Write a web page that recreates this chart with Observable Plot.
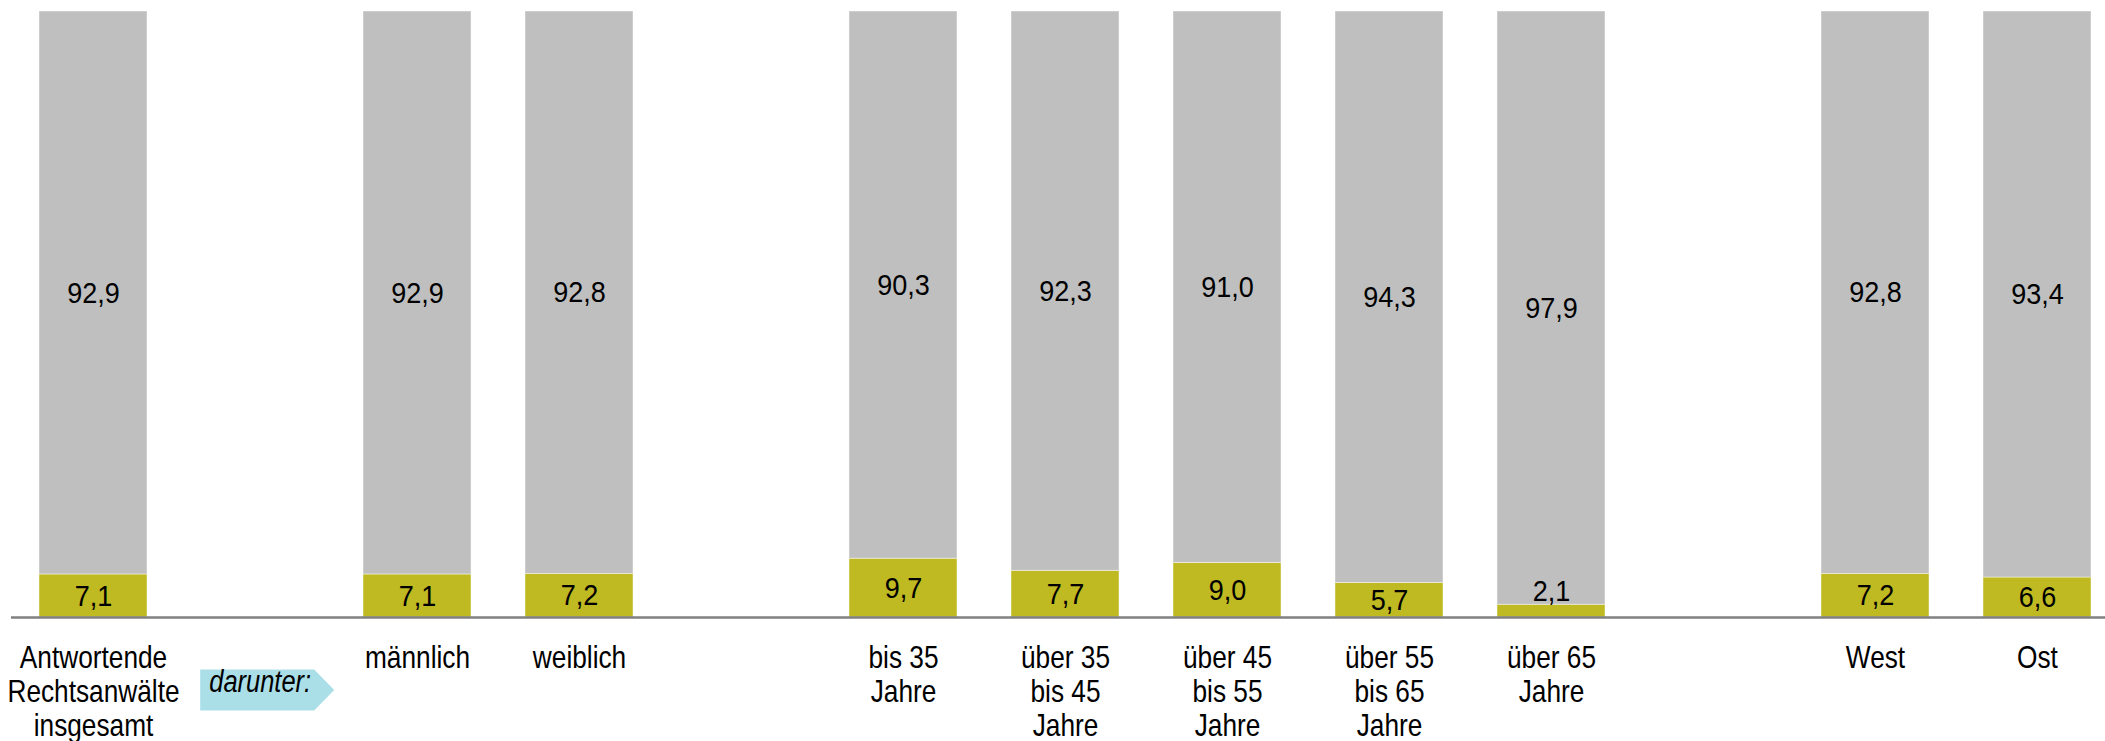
<!DOCTYPE html>
<html>
<head>
<meta charset="utf-8">
<script src="https://cdn.jsdelivr.net/npm/d3@7"></script>
<script src="https://cdn.jsdelivr.net/npm/@observablehq/plot@0.6"></script>
<style>
  html, body { margin: 0; padding: 0; background: #ffffff; }
  #chart svg { display: block; }
</style>
</head>
<body>
<div id="chart"></div>
<script>
// ---- Data ----
const categories = [
  "Antwortende\nRechtsanwälte\ninsgesamt",
  "männlich",
  "weiblich",
  "bis 35\nJahre",
  "über 35\nbis 45\nJahre",
  "über 45\nbis 55\nJahre",
  "über 55\nbis 65\nJahre",
  "über 65\nJahre",
  "West",
  "Ost"
];
const yellowValues = [7.1, 7.1, 7.2, 9.7, 7.7, 9.0, 5.7, 2.1, 7.2, 6.6];
const grayValues   = [92.9, 92.9, 92.8, 90.3, 92.3, 91.0, 94.3, 97.9, 92.8, 93.4];
const seriesNames = ["ja", "nein"];
const seriesColors = ["#bfb922", "#bfbfbf"];
const dividerLabel = "darunter:";
// slot order along the x axis (blank slots separate the groups)
const xSlots = [
  categories[0], dividerLabel, categories[1], categories[2], " ",
  categories[3], categories[4], categories[5], categories[6], categories[7], "  ",
  categories[8], categories[9]
];

// ---- Table for Plot ----
const table = [];
categories.forEach((c, i) => {
  table.push({cat: c, series: seriesNames[0], value: yellowValues[i]});
  table.push({cat: c, series: seriesNames[1], value: grayValues[i]});
});
const fmt = v => v.toFixed(1).replace(".", ",");
const small = d => d.series === seriesNames[0] && d.value < 4;

// arrow-shaped tag symbol for "darunter:"
const tagSymbol = {
  draw(ctx) {
    ctx.moveTo(-55.3, -20.5);
    ctx.lineTo(58.7, -20.5);
    ctx.lineTo(78.7, 0);
    ctx.lineTo(58.7, 20.5);
    ctx.lineTo(-55.3, 20.5);
    ctx.closePath();
  }
};

const narrow = "'Liberation Sans Narrow', 'Arial Narrow', 'Liberation Sans', Arial, sans-serif";
const regular = "'Liberation Sans', Arial, sans-serif";

const chart = Plot.plot({
  width: 2105,
  height: 741,
  marginTop: 11,
  marginBottom: 124,
  marginLeft: 11,
  marginRight: 0,
  style: {background: "#ffffff", color: "#000000"},
  x: {domain: xSlots, paddingInner: 0.334, paddingOuter: 0.122, align: 0.664},
  y: {domain: [0, 100], axis: null},
  color: {domain: seriesNames, range: seriesColors},
  marks: [
    Plot.barY(table, {
      x: "cat", y: "value", fill: "series",
      stroke: "#ffffff", strokeOpacity: 0.45, strokeWidth: 1
    }),
    Plot.text(table, Plot.stackY({
      x: "cat", y: "value", z: "series",
      text: d => small(d) ? "" : fmt(d.value),
      fontSize: 30, fontFamily: regular, fill: "#000000"
    })),
    Plot.text(table, Plot.stackY2({
      x: "cat", y: "value", z: "series",
      text: d => small(d) ? fmt(d.value) : "",
      dy: -13,
      fontSize: 30, fontFamily: regular, fill: "#000000"
    })),
    Plot.ruleY([0], {stroke: "#808080", strokeWidth: 2.5}),
    Plot.axisX({
      tickSize: 0, tickPadding: 26, label: null,
      tickFormat: d => categories.includes(d) ? d : "",
      fontSize: 32, fontFamily: narrow, lineHeight: 1.07, fill: "#000000"
    }),
    Plot.dot([dividerLabel], {
      x: d => d, frameAnchor: "bottom", dy: 72.5,
      symbol: tagSymbol, r: 10, fill: "#abdfe8", stroke: "none"
    }),
    Plot.text([dividerLabel], {
      x: d => d, text: d => d, frameAnchor: "bottom", dy: 74.8, dx: 4.7,
      fontSize: 31, fontStyle: "italic", fontFamily: narrow, fill: "#000000"
    })
  ]
});
document.getElementById("chart").appendChild(chart);

// condense glyphs (narrow face is not installed)
function condense(selector, factor) {
  chart.querySelectorAll(selector).forEach(t => {
    const spans = t.querySelectorAll("tspan");
    const parts = spans.length ? Array.from(spans) : [t];
    parts.forEach(p => {
      const L = p.getComputedTextLength();
      if (L > 0) {
        p.setAttribute("textLength", (L * factor).toFixed(2));
        p.setAttribute("lengthAdjust", "spacingAndGlyphs");
      }
    });
  });
}
condense('g[aria-label="x-axis tick label"] text', 0.82);
condense('g[font-style="italic"] text', 0.82);
condense('g[font-size="30"] text', 0.9);
</script>
</body>
</html>
